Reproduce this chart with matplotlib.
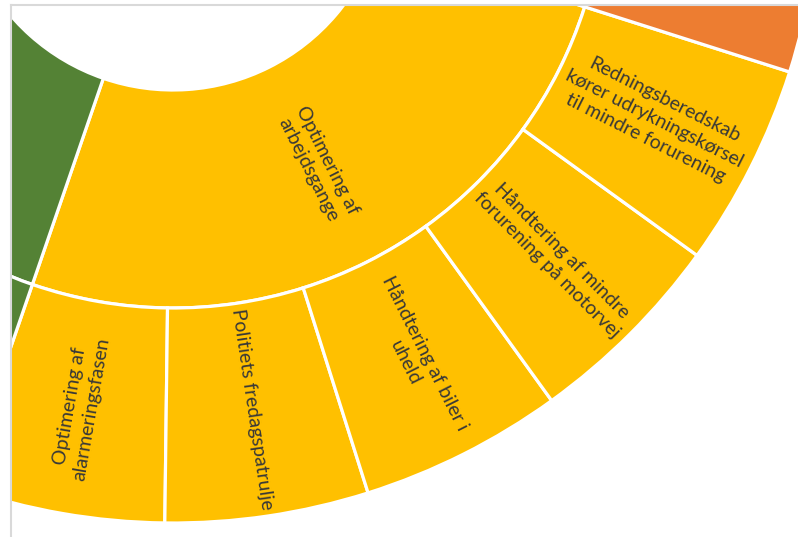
import matplotlib.pyplot as plt
from matplotlib.lines import Line2D
import numpy as np

# inderste ring (grupper), mod uret fra grænsen grøn/gul
group_names = ["Optimering af arbejdsgange", "orange gruppe", "øvrige", "grøn gruppe"]
group_values = [5, 4, 5.7, 5]
group_colors = ["#FFC000", "#ED7D31", "#A5A5A5", "#548235"]
group_labels = ["Optimering af\narbejdsgange", "", "", ""]

# yderste ring: børn af "Optimering af arbejdsgange"
leaf_labels = [
    "Optimering af\nalarmeringsfasen",
    "Politiets fredagspatrulje",
    "Håndtering af biler i\nuheld",
    "Håndtering af mindre\nforurening på motorvej",
    "Redningsberedskab\nkører udrykningskørsel\ntil mindre forurening",
]
leaf_values = [1, 1, 1, 1, 1]

outer_values = leaf_values + group_values[1:]
outer_colors = [group_colors[0]] * len(leaf_values) + group_colors[1:]
outer_labels = leaf_labels + [""] * (len(group_values) - 1)

plt.rcParams['font.family'] = ['Lato', 'DejaVu Sans']

fig = plt.figure(figsize=(7.98, 5.37), dpi=100)
ax = fig.add_axes([12 / 798, 0, 786 / 798, 531 / 537])

center = (173, 661)
r_hole, r_mid, r_out = 214, 432, 647
start = -109
edge = dict(edgecolor="white", linewidth=2.3)

inner, _ = ax.pie(group_values, colors=group_colors, radius=r_mid, center=center,
                  startangle=start, counterclock=True,
                  wedgeprops=dict(width=r_mid - r_hole, **edge))
outer, _ = ax.pie(outer_values, colors=outer_colors, radius=r_out, center=center,
                  startangle=start, counterclock=True,
                  wedgeprops=dict(width=r_out - r_mid, **edge))
for w in inner + outer:
    w.set_clip_on(True)


def put_labels(wedges, labels):
    for w, lab in zip(wedges, labels):
        if not lab:
            continue
        mid = (w.theta1 + w.theta2) / 2
        rr = w.r - w.width / 2
        x = center[0] + rr * np.cos(np.radians(mid))
        y = center[1] + rr * np.sin(np.radians(mid))
        rot = mid
        if rot < -90:
            rot += 180
        elif rot > 90:
            rot -= 180
        ax.text(x, y, lab, rotation=rot, rotation_mode="anchor", ha="center",
                va="center", multialignment="center", fontsize=14, linespacing=1.3,
                color="#383838")


put_labels(inner, group_labels)
put_labels(outer, outer_labels)

ax.set_xlim(12, 798)
ax.set_ylim(0, 531)
ax.set_aspect("auto")
ax.axis("off")

# grå ramme fra skærmbilledet
fig.add_artist(Line2D([11 / 798, 11 / 798], [0, 1 - 5 / 537], transform=fig.transFigure,
                      color="#D9D9D9", linewidth=1.5))
fig.add_artist(Line2D([11 / 798, 1], [1 - 5 / 537, 1 - 5 / 537], transform=fig.transFigure,
                      color="#D9D9D9", linewidth=1.5))

fig.savefig("out.png", dpi=100)
